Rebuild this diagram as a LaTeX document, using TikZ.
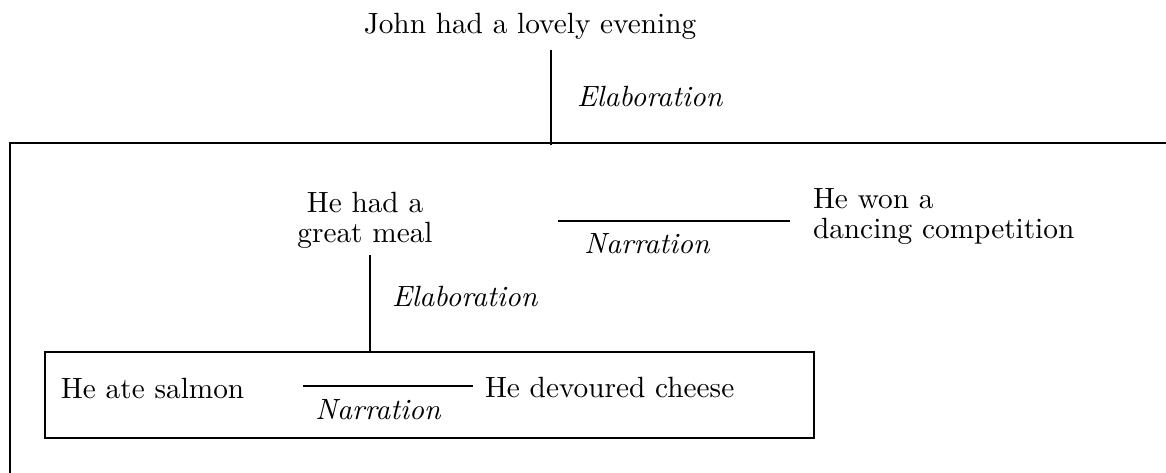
\documentclass[tikz,border=0pt]{standalone}
\begin{document}
\begin{tikzpicture}[x=0.3413pt,y=-0.3413pt,
  every node/.style={inner sep=0pt, outer sep=0pt},
  txt/.style={font=\fontsize{10}{10.3}\selectfont},
  rel/.style={font=\itshape},
  link/.style={line width=0.45pt},
  frame/.style={line width=0.5pt}]
\useasboundingbox (0,0) rectangle (1166,472);

% outer discourse box (runs off the right and bottom edges)
\coordinate (bigTR) at (1170,143);
\coordinate (bigTL) at (10,143);
\coordinate (bigBL) at (10,476);
\draw[frame] (bigTR) -- (bigTL) -- (bigBL);

% top node and elaboration link
\node[anchor=base] (john) at (530,33) {John had a lovely evening};
\coordinate (e1top) at (551,50);
\coordinate (e1bot) at (551,145);
\draw[link] (e1top) -- (e1bot);
\node[rel, anchor=base west] (elab1) at (577,106) {Elaboration};

% second level
\node[txt, align=center, anchor=north] (meal) at (365,192) {He had a\\great meal};
\coordinate (n1a) at (558,221);
\coordinate (n1b) at (790,221);
\draw[link] (n1a) -- (n1b);
\node[rel, anchor=base] (narr1) at (647,253) {Narration};
\node[txt, align=left, anchor=north west] (dance) at (813,188.5) {He won a\\dancing competition};

% elaboration of the meal
\coordinate (e2top) at (370,255);
\coordinate (e2bot) at (370,352);
\draw[link] (e2top) -- (e2bot);
\node[rel, anchor=base west] (elab2) at (392,306) {Elaboration};

% inner box
\coordinate (inTL) at (45,352);
\coordinate (inBR) at (814,438);
\draw[frame] (inTL) rectangle (inBR);
\node[anchor=base west] (salmon) at (61,398) {He ate salmon};
\coordinate (n2a) at (303,386);
\coordinate (n2b) at (473,386);
\draw[link] (n2a) -- (n2b);
\node[rel, anchor=base] (narr2) at (378,419) {Narration};
\node[anchor=base west] (cheese) at (485,397) {He devoured cheese};
\end{tikzpicture}
\end{document}
